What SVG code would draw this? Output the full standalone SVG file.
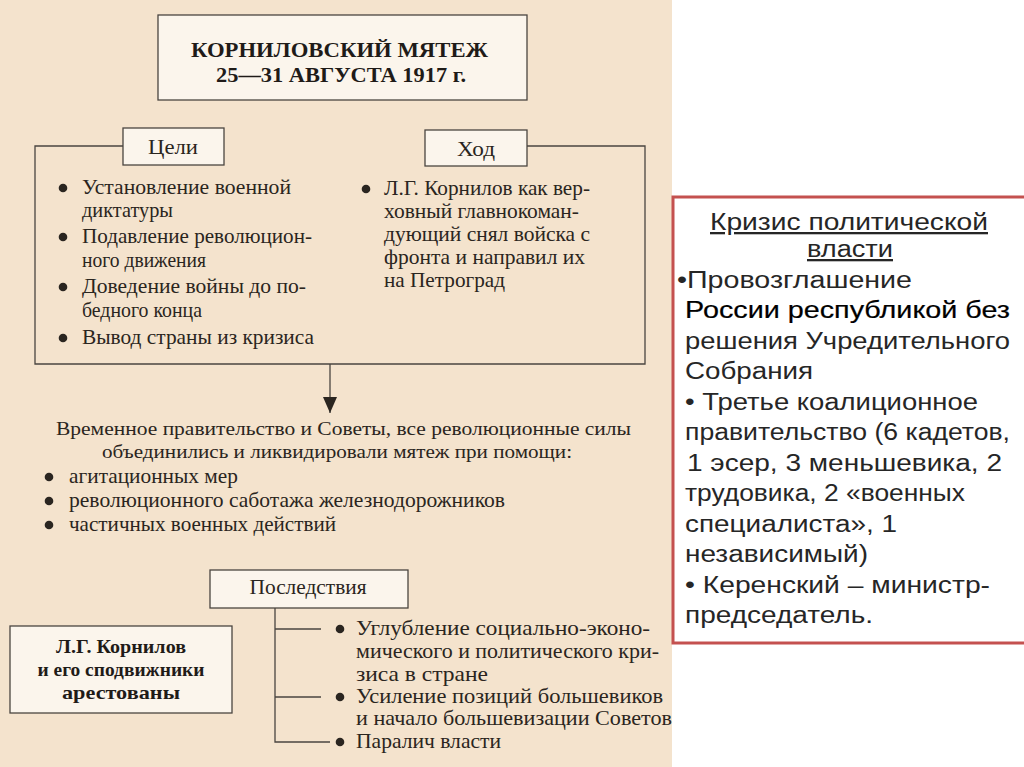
<svg xmlns="http://www.w3.org/2000/svg" width="1024" height="767" viewBox="0 0 1024 767">
<defs>
<style>
.bg{fill:#F4E3CD}
.box{fill:#FBF5EC;stroke:#4a4540;stroke-width:1.3}
.ln{fill:none;stroke:#4a4540;stroke-width:1.3}
.t{font-family:"Liberation Serif","Times New Roman",serif;font-size:21px;fill:#2a2520}
.ts{font-family:"Liberation Serif","Times New Roman",serif;font-size:19px;fill:#2a2520}
.tl{font-family:"Liberation Serif","Times New Roman",serif;font-size:22px;fill:#2a2520}
.tb{font-family:"Liberation Serif","Times New Roman",serif;font-size:21px;font-weight:bold;fill:#1f1b18}
.tbs{font-family:"Liberation Serif","Times New Roman",serif;font-size:19px;font-weight:bold;fill:#1f1b18}
.dot{fill:#2a2520}
.r{font-family:"Liberation Sans",Arial,sans-serif;font-size:23px;fill:#262626}
.rbox{fill:#ffffff;stroke:#C4514F;stroke-width:3}
</style>
<marker id="arr" viewBox="0 0 16 14" refX="16" refY="7" markerWidth="16" markerHeight="14" markerUnits="userSpaceOnUse" orient="auto">
<path d="M0,0 L16,7 L0,14 Z" fill="#2a2520"/>
</marker>
</defs>

<rect x="0" y="0" width="1024" height="767" fill="#ffffff"/>
<rect class="bg" x="0" y="0" width="672" height="767"/>

<g id="title">
<rect class="box" x="158" y="15" width="369" height="85"/>
<text class="tb" x="191" y="57" textLength="297" lengthAdjust="spacingAndGlyphs">КОРНИЛОВСКИЙ МЯТЕЖ</text>
<text class="tb" x="216" y="82" textLength="250" lengthAdjust="spacingAndGlyphs">25—31 АВГУСТА 1917 г.</text>
</g>

<g id="goals-frame">
<path class="ln" d="M123,146 H35 V364 H645 V146 H527"/>
</g>

<g id="goals-box">
<rect class="box" x="123" y="128" width="101" height="37"/>
<text class="tl" x="173" y="154" text-anchor="middle" textLength="50" lengthAdjust="spacingAndGlyphs">Цели</text>
</g>

<g id="course-box">
<rect class="box" x="425" y="130" width="102" height="36"/>
<text class="tl" x="476" y="156" text-anchor="middle" textLength="38" lengthAdjust="spacingAndGlyphs">Ход</text>
</g>

<g id="goals-list">
<circle class="dot" cx="63" cy="188" r="4.3"/>
<text class="t" x="82" y="194" textLength="209" lengthAdjust="spacingAndGlyphs">Установление военной</text>
<text class="t" x="82" y="217" textLength="91" lengthAdjust="spacingAndGlyphs">диктатуры</text>
<circle class="dot" cx="63" cy="237" r="4.3"/>
<text class="t" x="82" y="243" textLength="230" lengthAdjust="spacingAndGlyphs">Подавление революцион-</text>
<text class="t" x="82" y="267" textLength="124" lengthAdjust="spacingAndGlyphs">ного движения</text>
<circle class="dot" cx="63" cy="287" r="4.3"/>
<text class="t" x="82" y="293" textLength="224" lengthAdjust="spacingAndGlyphs">Доведение войны до по-</text>
<text class="t" x="82" y="317" textLength="120" lengthAdjust="spacingAndGlyphs">бедного конца</text>
<circle class="dot" cx="63" cy="338" r="4.3"/>
<text class="t" x="82" y="344" textLength="232" lengthAdjust="spacingAndGlyphs">Вывод страны из кризиса</text>
</g>

<g id="course-list">
<circle class="dot" cx="366" cy="189" r="4.3"/>
<text class="t" x="384" y="195" textLength="206" lengthAdjust="spacingAndGlyphs">Л.Г. Корнилов как вер-</text>
<text class="t" x="384" y="218" textLength="195" lengthAdjust="spacingAndGlyphs">ховный главнокоман-</text>
<text class="t" x="384" y="241" textLength="206" lengthAdjust="spacingAndGlyphs">дующий снял войска с</text>
<text class="t" x="384" y="264" textLength="201" lengthAdjust="spacingAndGlyphs">фронта и направил их</text>
<text class="t" x="384" y="287" textLength="121" lengthAdjust="spacingAndGlyphs">на Петроград</text>
</g>

<g id="connectors">
<line class="ln" x1="330" y1="364" x2="330" y2="413" marker-end="url(#arr)"/>
<path class="ln" d="M275,608 V742 H330 M275,629 H321 M275,697 H321"/>
</g>

<g id="outcome">
<text class="ts" x="56" y="435" textLength="575" lengthAdjust="spacingAndGlyphs">Временное правительство и Советы, все революционные силы</text>
<text class="ts" x="102" y="458" textLength="470" lengthAdjust="spacingAndGlyphs">объединились и ликвидировали мятеж при помощи:</text>
<circle class="dot" cx="49" cy="477" r="4.3"/>
<text class="t" x="69" y="483" textLength="169" lengthAdjust="spacingAndGlyphs">агитационных мер</text>
<circle class="dot" cx="49" cy="501" r="4.3"/>
<text class="t" x="69" y="507" textLength="436" lengthAdjust="spacingAndGlyphs">революционного саботажа железнодорожников</text>
<circle class="dot" cx="49" cy="525" r="4.3"/>
<text class="t" x="69" y="531" textLength="267" lengthAdjust="spacingAndGlyphs">частичных военных действий</text>
</g>

<g id="consequences-box">
<rect class="box" x="210" y="570" width="198" height="38"/>
<text class="t" x="308" y="594" text-anchor="middle" textLength="117" lengthAdjust="spacingAndGlyphs">Последствия</text>
</g>

<g id="consequences-list">
<circle class="dot" cx="340" cy="629" r="4.3"/>
<text class="t" x="356" y="635" textLength="294" lengthAdjust="spacingAndGlyphs">Углубление социально-эконо-</text>
<text class="t" x="356" y="658" textLength="303" lengthAdjust="spacingAndGlyphs">мического и политического кри-</text>
<text class="t" x="356" y="681" textLength="132" lengthAdjust="spacingAndGlyphs">зиса в стране</text>
<circle class="dot" cx="340" cy="697" r="4.3"/>
<text class="t" x="356" y="703" textLength="307" lengthAdjust="spacingAndGlyphs">Усиление позиций большевиков</text>
<text class="t" x="356" y="725" textLength="316" lengthAdjust="spacingAndGlyphs">и начало большевизации Советов</text>
<circle class="dot" cx="340" cy="742" r="4.3"/>
<text class="t" x="356" y="748" textLength="145" lengthAdjust="spacingAndGlyphs">Паралич власти</text>
</g>

<g id="kornilov-box">
<rect class="box" x="10" y="626" width="222" height="87"/>
<text class="tbs" x="121" y="653" text-anchor="middle" textLength="130" lengthAdjust="spacingAndGlyphs">Л.Г. Корнилов</text>
<text class="tbs" x="121" y="676" text-anchor="middle" textLength="167" lengthAdjust="spacingAndGlyphs">и его сподвижники</text>
<text class="tbs" x="121" y="699" text-anchor="middle" textLength="118" lengthAdjust="spacingAndGlyphs">арестованы</text>
</g>

<g id="crisis-box">
<rect class="rbox" x="673" y="197" width="360" height="446"/>
<text class="r" x="849" y="230" text-anchor="middle" text-decoration="underline" textLength="278" lengthAdjust="spacingAndGlyphs">Кризис политической</text>
<text class="r" x="850" y="257" text-anchor="middle" text-decoration="underline" textLength="86" lengthAdjust="spacingAndGlyphs">власти</text>
<text class="r" x="677" y="288" textLength="235" lengthAdjust="spacingAndGlyphs">•Провозглашение</text>
<text class="r" x="685" y="318" textLength="325" lengthAdjust="spacingAndGlyphs" style="fill:#000;stroke:#000;stroke-width:0.2">России республикой без</text>
<text class="r" x="685" y="349" textLength="325" lengthAdjust="spacingAndGlyphs">решения Учредительного</text>
<text class="r" x="685" y="379" textLength="128" lengthAdjust="spacingAndGlyphs">Собрания</text>
<text class="r" x="685" y="410" textLength="293" lengthAdjust="spacingAndGlyphs">• Третье коалиционное</text>
<text class="r" x="685" y="440" textLength="325" lengthAdjust="spacingAndGlyphs">правительство (6 кадетов,</text>
<text class="r" x="687" y="471" textLength="315" lengthAdjust="spacingAndGlyphs">1 эсер, 3 меньшевика, 2</text>
<text class="r" x="685" y="501" textLength="280" lengthAdjust="spacingAndGlyphs">трудовика, 2 «военных</text>
<text class="r" x="685" y="532" textLength="212" lengthAdjust="spacingAndGlyphs">специалиста», 1</text>
<text class="r" x="685" y="562" textLength="183" lengthAdjust="spacingAndGlyphs">независимый)</text>
<text class="r" x="685" y="593" textLength="305" lengthAdjust="spacingAndGlyphs">• Керенский – министр-</text>
<text class="r" x="685" y="623" textLength="188" lengthAdjust="spacingAndGlyphs">председатель.</text>
</g>
</svg>
